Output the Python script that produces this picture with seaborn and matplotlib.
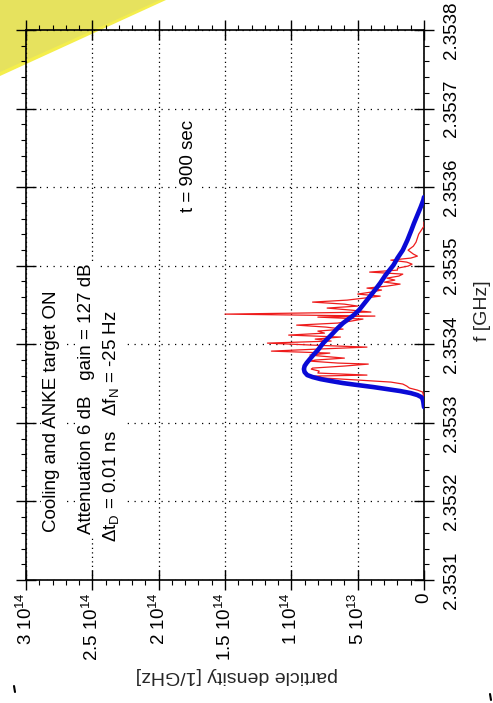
import matplotlib
matplotlib.use("Agg")
import matplotlib.pyplot as plt
import matplotlib.transforms as mtransforms
import seaborn as sns
import pandas as pd
from matplotlib.patches import Polygon
from matplotlib.lines import Line2D
from matplotlib.ticker import FixedLocator, FixedFormatter, MultipleLocator, NullFormatter

# ---------------- data ----------------
meas_freq_ghz = [
    2.3533226, 2.3533290, 2.3533354, 2.3533392, 2.3533417, 2.3533443, 2.3533468,
    2.3533494, 2.3533519, 2.3533545, 2.3533570, 2.3533595, 2.3533608, 2.3533634,
    2.3533659, 2.3533684, 2.3533697, 2.3533723, 2.3533748, 2.3533761, 2.3533786,
    2.3533799, 2.3533824, 2.3533850, 2.3533863, 2.3533888, 2.3533913, 2.3533939,
    2.3533964, 2.3533990, 2.3534015, 2.3534041, 2.3534066, 2.3534092, 2.3534117,
    2.3534142, 2.3534168, 2.3534193, 2.3534219, 2.3534244, 2.3534270, 2.3534295,
    2.3534321, 2.3534346, 2.3534359, 2.3534384, 2.3534410, 2.3534435, 2.3534461,
    2.3534486, 2.3534511, 2.3534537, 2.3534562, 2.3534588, 2.3534613, 2.3534639,
    2.3534664, 2.3534690, 2.3534715, 2.3534740, 2.3534766, 2.3534791, 2.3534817,
    2.3534842, 2.3534868, 2.3534893, 2.3534919, 2.3534944, 2.3534969, 2.3534995,
    2.3535020, 2.3535046, 2.3535071, 2.3535097, 2.3535122, 2.3535148, 2.3535173,
    2.3535198, 2.3535249, 2.3535300, 2.3535351, 2.3535402, 2.3535453, 2.3535504,
    2.3535555,
]
meas_density_e13 = [
    0.0, 0.0, 0.05, 0.1, 0.5, 1.1, 1.3,
    1.6, 2.5, 5.0, 7.5, 8.3, 4.3, 8.0,
    7.9, 8.5, 8.4, 6.0, 4.2, 6.5, 8.6,
    8.2, 6.0, 7.8, 8.6, 7.1, 11.5, 8.0,
    4.3, 8.5, 11.8, 7.0, 8.2, 6.3, 10.2,
    7.5, 8.0, 6.1, 7.4, 9.6, 6.5, 5.5,
    4.6, 8.0, 3.7, 15.0, 4.0, 5.5, 7.3,
    5.0, 6.0, 8.4, 5.8, 4.5, 3.3, 5.0,
    4.0, 3.2, 4.3, 2.8, 1.8, 3.0, 2.2,
    2.8, 1.9, 1.6, 4.1, 2.0, 2.0, 1.2,
    0.9, 1.3, 2.5, 1.0, 0.5, 0.8, 1.0,
    1.2, 0.8, 0.6, 0.5, 0.4, 0.2, 0.0,
    0.0,
]
fit_freq_ghz = [
    2.3533201, 2.3533265, 2.3533303, 2.3533328, 2.3533354, 2.3533379, 2.3533405,
    2.3533430, 2.3533455, 2.3533481, 2.3533506, 2.3533532, 2.3533557, 2.3533583,
    2.3533608, 2.3533646, 2.3533684, 2.3533723, 2.3533761, 2.3533812, 2.3533863,
    2.3533926, 2.3534015, 2.3534117, 2.3534206, 2.3534270, 2.3534371, 2.3534435,
    2.3534562, 2.3534690, 2.3534779, 2.3534880, 2.3535008, 2.3535097, 2.3535198,
    2.3535326, 2.3535453, 2.3535542, 2.3535644, 2.3535746, 2.3535835, 2.3535873,
]
fit_density_e13 = [
    0.0, 0.05, 0.1, 0.2, 0.5, 1.0, 1.8,
    2.8, 3.8, 5.0, 6.1, 7.0, 7.8, 8.4,
    8.8, 9.0, 9.05, 9.0, 8.85, 8.6, 8.35,
    8.0, 7.6, 7.0, 6.5, 6.1, 5.3, 4.9,
    4.3, 3.7, 3.3, 2.9, 2.3, 2.0, 1.6,
    1.25, 0.95, 0.75, 0.5, 0.25, 0.05, 0.0,
]
density_ticks = [0, 5e13, 1e14, 1.5e14, 2e14, 2.5e14, 3e14]
density_tick_labels = ["0", r"$5\ 10^{13}$", r"$1\ 10^{14}$", r"$1.5\ 10^{14}$",
                       r"$2\ 10^{14}$", r"$2.5\ 10^{14}$", r"$3\ 10^{14}$"]
freq_ticks = [2.3531, 2.3532, 2.3533, 2.3534, 2.3535, 2.3536, 2.3537, 2.3538]
freq_tick_labels = ["2.3531", "2.3532", "2.3533", "2.3534",
                    "2.3535", "2.3536", "2.3537", "2.3538"]

meas = pd.DataFrame({"f": meas_freq_ghz,
                     "d": [v * 1e13 for v in meas_density_e13]})
fit = pd.DataFrame({"f": fit_freq_ghz,
                    "d": [v * 1e13 for v in fit_density_e13]})

# ---------------- style ----------------
sns.set_theme(style="white")
plt.rcParams["font.family"] = ["Liberation Sans", "DejaVu Sans"]
plt.rcParams["mathtext.fontset"] = "custom"
plt.rcParams["mathtext.rm"] = "Liberation Sans"
plt.rcParams["mathtext.it"] = "Liberation Sans"
plt.rcParams["mathtext.bf"] = "Liberation Sans"
plt.rcParams["mathtext.default"] = "regular"

W, H = 493, 703
fig = plt.figure(figsize=(W / 100, H / 100), dpi=100)
fig.patch.set_facecolor("white")

# folded yellow corner (behind the axes)
fig.add_artist(Polygon([[0, 1], [166 / W, 1], [0, 1 - 76 / H]], closed=True,
                       transform=fig.transFigure, facecolor="#f4ee4c",
                       edgecolor="none", zorder=-2))
fig.add_artist(Polygon([[0, 1], [160 / W, 1], [0, 1 - 72 / H]], closed=True,
                       transform=fig.transFigure, facecolor="#e6e25e",
                       edgecolor="none", zorder=-1))

ax = fig.add_axes([26 / W, 1 - 580 / H, 398 / W, 550 / H])
ax.set_facecolor("none")

sns.lineplot(data=meas, x="d", y="f", sort=False, estimator=None, orient="y",
             color="#ee1c1c", lw=0.9, ax=ax, zorder=3)
sns.lineplot(data=fit, x="d", y="f", sort=False, estimator=None, orient="y",
             color="#0a0ad6", lw=3.3, ax=ax, zorder=4)

ax.set_xlim(3e14, 0)
ax.set_ylim(2.3531, 2.3538)

ax.xaxis.set_major_locator(FixedLocator(density_ticks))
ax.xaxis.set_major_formatter(FixedFormatter(density_tick_labels))
ax.xaxis.set_minor_locator(MultipleLocator(1e13))
ax.yaxis.set_major_locator(FixedLocator(freq_ticks))
ax.yaxis.set_major_formatter(NullFormatter())
ax.yaxis.set_minor_locator(MultipleLocator(0.00002))

for s in ax.spines.values():
    s.set_visible(True)
    s.set_color("black")
    s.set_linewidth(1.2)

ax.tick_params(which="major", direction="inout", length=14, width=1.0,
               color="black", top=True, bottom=True, left=True, right=True,
               labelbottom=True, labeltop=False, labelleft=False,
               labelright=False, labelsize=13.5, labelcolor="black")
ax.tick_params(which="minor", direction="out", length=3.8, width=0.8,
               color="black", top=True, bottom=True, left=True, right=True)
ax.tick_params(axis="x", which="major", labelrotation=90, pad=2)

# frequency tick labels on the right, reading bottom-to-top
ytick_tr = mtransforms.blended_transform_factory(ax.transAxes, ax.transData)
for fval, flab in zip(freq_ticks, freq_tick_labels):
    ax.text(1.0477, fval, flab, transform=ytick_tr, rotation=90,
            rotation_mode="default", ha="left", va="center",
            fontsize=13.5, color="black", clip_on=False)

ax.grid(axis="x", which="major", color="black", lw=0.9,
        linestyle=(0, (1, 2.6)))
ax.grid(axis="y", which="major", color="black", lw=0.9,
        linestyle=(0, (1, 4.4)))
ax.set_axisbelow(True)

ax.set_xlabel("particle density [1/GHz]", fontsize=14, rotation=180,
              ha="center", va="center")
ax.xaxis.set_label_coords(0.53, -0.173)
ax.yaxis.set_label_position("right")
ax.set_ylabel("f [GHz]", fontsize=14, rotation=90)
ax.yaxis.label.set_rotation_mode("default")
ax.yaxis.label.set_horizontalalignment("center")
ax.yaxis.label.set_verticalalignment("center")
ax.yaxis.set_label_coords(1.146, 0.49)

box = dict(facecolor="white", edgecolor="none", pad=1.5)
txt_kw = dict(rotation=90, rotation_mode="anchor", ha="right", va="baseline",
              fontsize=13.5, color="black", bbox=box, zorder=2.5)
ax.text(2.774e14, 2.3534690, "Cooling and ANKE target ON", **txt_kw)
ax.text(2.510e14, 2.3535033, "Attenuation 6 dB   gain = 127 dB", **txt_kw)
ax.text(2.322e14, 2.3534435,
        r"$\Delta$t$_{D}$ = 0.01 ns   $\Delta$f$_{N}$ = -25 Hz", **txt_kw)
ax.text(1.741e14, 2.3536852, "t = 900 sec", **txt_kw)

# small stray marks at the bottom corners of the page
fig.add_artist(Line2D([14 / W, 15 / W], [1 - 686 / H, 1 - 692 / H],
                      color="black", lw=1.5, transform=fig.transFigure))
fig.add_artist(Line2D([490 / W, 491 / W], [1 - 694 / H, 1 - 700 / H],
                      color="black", lw=1.5, transform=fig.transFigure))

fig.savefig("out.png", dpi=100)
